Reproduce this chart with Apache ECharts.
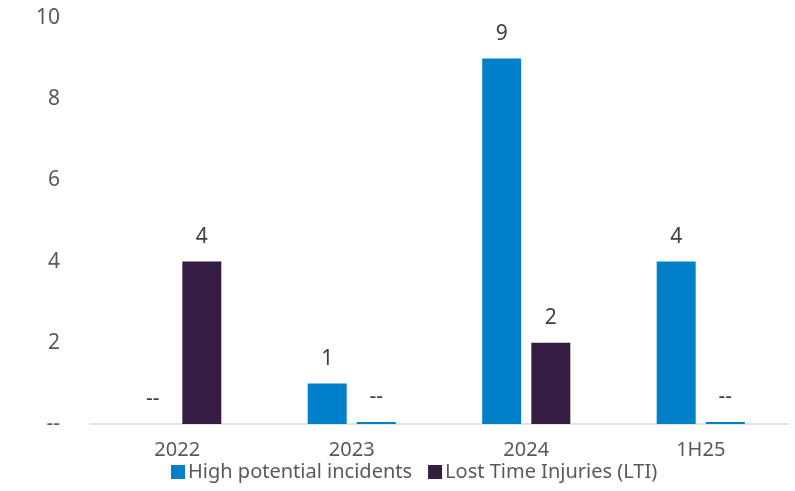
<!DOCTYPE html>
<html><head><meta charset="utf-8">
<script src="https://cdn.jsdelivr.net/npm/echarts@6/dist/echarts.min.js"></script>
<style>html,body{margin:0;padding:0;background:#fff}#c{width:795px;height:491px}</style>
</head><body><div id="c"></div>
<script>
const categories = ['2022', '2023', '2024', '1H25'];
const hpiValues = [0, 1, 9, 4];
const ltiValues = [4, 0, 2, 0];
const seriesNames = ['High potential incidents', 'Lost Time Injuries (LTI)'];
const yTicks = [0, 2, 4, 6, 8, 10];

const BLUE = '#0080C8', PURPLE = '#341C42';
const font = '"Noto Sans", "Open Sans", sans-serif';
const chart = echarts.init(document.getElementById('c'), null, {renderer: 'canvas'});
const lbl = {
  show: true, position: 'top', distance: 14, color: '#404040', fontSize: 21, fontFamily: font,
  formatter: p => p.value === 0 ? '--' : String(p.value)
};
chart.setOption({
  animation: false,
  grid: {left: 90, right: 7, top: 18, bottom: 67},
  legend: {
    bottom: 4, left: 166, itemWidth: 14, itemHeight: 14, itemGap: 16,
    icon: 'rect',
    textStyle: {color: '#595959', fontSize: 20, fontFamily: font, padding: [0, 0, 0, -2]},
    data: seriesNames
  },
  xAxis: {
    type: 'category', data: categories,
    axisLine: {lineStyle: {color: '#d9d9d9', width: 1.5}},
    axisTick: {show: false},
    axisLabel: {color: '#595959', fontSize: 20, fontFamily: font, margin: 16}
  },
  yAxis: {
    type: 'value', min: 0, max: 10, interval: 2,
    splitLine: {show: false}, axisLine: {show: false}, axisTick: {show: false},
    axisLabel: {color: '#595959', fontSize: 21, fontFamily: font, margin: 30,
      formatter: v => v === 0 ? '--' : String(v)}
  },
  series: [
    {name: seriesNames[0], type: 'bar', data: hpiValues, barWidth: 39, barGap: '26%',
      itemStyle: {color: BLUE}, label: lbl},
    {name: seriesNames[1], type: 'bar', barWidth: 39,
      data: ltiValues.map(v => v === 0 ? {value: 0, itemStyle: {color: BLUE}} : v),
      barMinHeight: 2,
      itemStyle: {color: PURPLE}, label: lbl}
  ]
});
</script></body></html>
